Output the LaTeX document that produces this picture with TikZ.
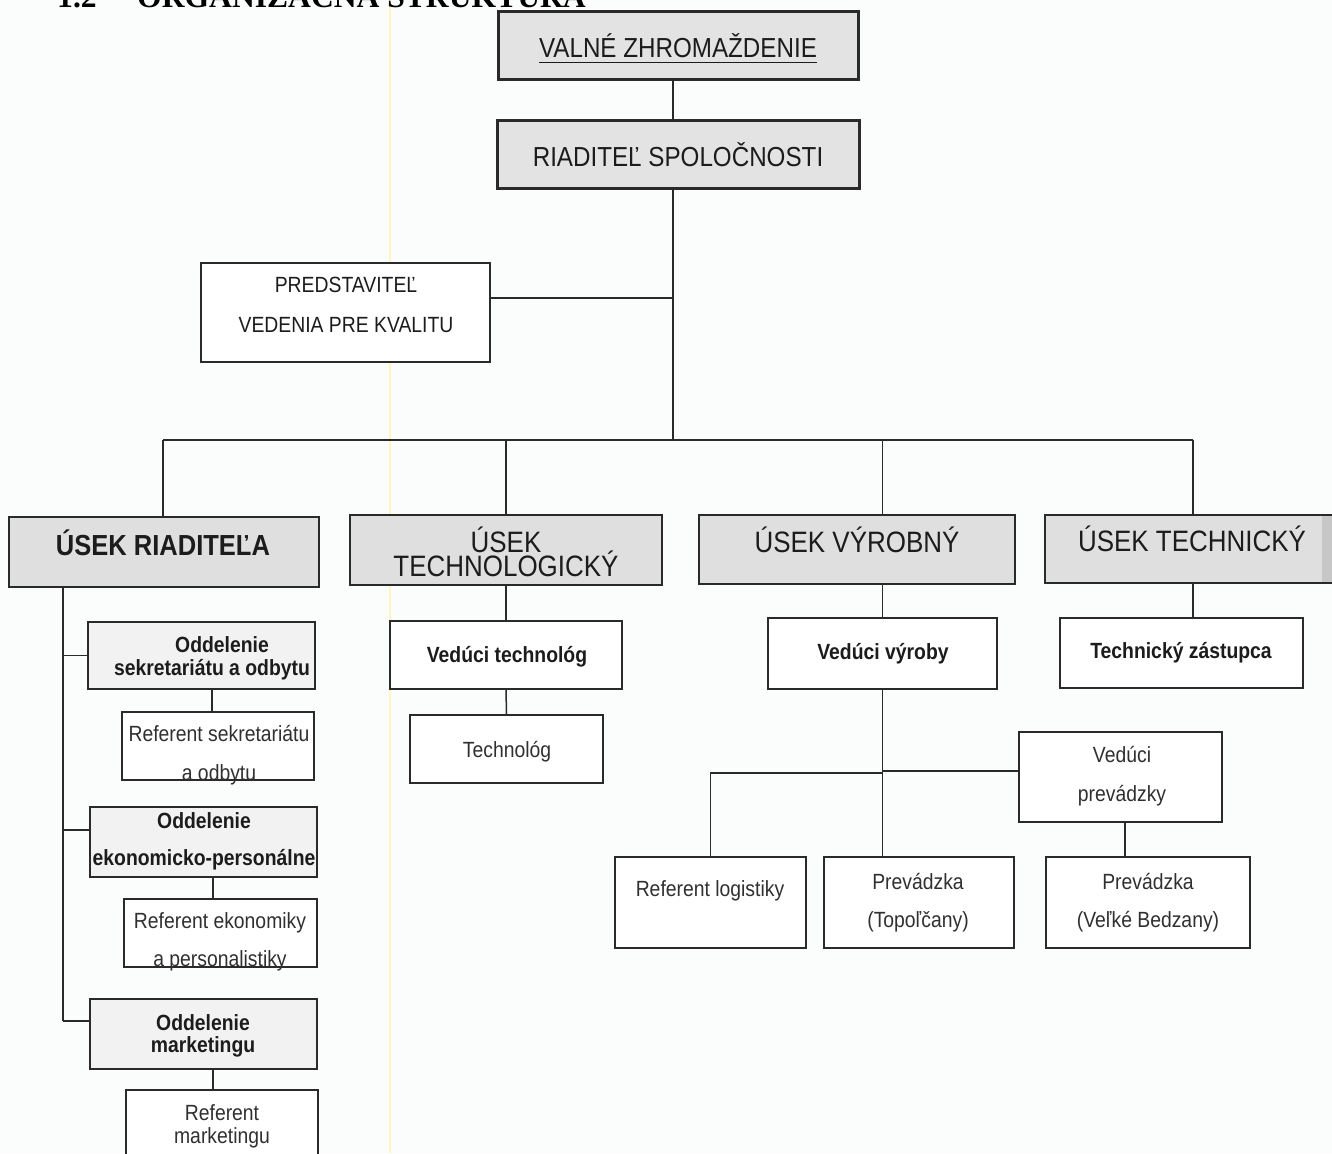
\documentclass[tikz,border=0pt]{standalone}
\usepackage{fontspec}
\setmainfont{Liberation Sans}
\newfontfamily\nar[FakeStretch=0.88]{Liberation Sans}
\newfontfamily\tms{Liberation Serif}
\definecolor{lc}{HTML}{2A2A2A}
\definecolor{tc}{HTML}{1C1C1C}
\definecolor{tcl}{HTML}{303030}
\definecolor{gfill}{HTML}{E3E3E3}
\definecolor{ufill}{HTML}{DFDFDF}
\definecolor{lfill}{HTML}{F2F2F2}
\definecolor{bgc}{HTML}{FBFDFD}
\definecolor{yel}{HTML}{FFF5BF}
\begin{document}
\begin{tikzpicture}[x=1pt,y=-1pt,
  box/.style={draw=lc, line width=1.6pt, rectangle, inner sep=0pt, outer sep=0pt, fill=white},
  topbox/.style={box, line width=3pt, fill=gfill},
  usekbox/.style={box, line width=2pt, fill=ufill},
  oddbox/.style={box, fill=lfill},
  ln/.style={draw=lc, line width=1.5pt},
  txt/.style={anchor=base, inner sep=0pt, outer sep=0pt, text=tcl, font=\nar\fontsize{22}{26}\selectfont},
  btxt/.style={txt, text=tc, font=\nar\bfseries\fontsize{22}{26}\selectfont},
  bigtxt/.style={txt, text=tc, font=\nar\fontsize{27.5}{32}\selectfont},
  usektxt/.style={txt, text=tc, font=\nar\fontsize{29.5}{34}\selectfont},
  headtxt/.style={anchor=base west, inner sep=0pt, text=black, font=\tms\bfseries\fontsize{31.6}{36}\selectfont}
]
\useasboundingbox (0,0) rectangle (1332,1153);
\fill[bgc] (0,0) rectangle (1332,1153);
% scan artefact
\draw[yel, line width=2pt] (390,0) -- (390,1153);

% heading (cut at top)
\node[headtxt] (h1) at (57,8) {1.2};
\node[headtxt] (h2) at (137,8) {ORGANIZAČNÁ ŠTRUKTÚRA};

% coordinates
\coordinate (trunk) at (673,440);
\coordinate (jq) at (673,298);
\coordinate (b1) at (163,440);
\coordinate (b2) at (1193,440);
\coordinate (lv) at (63,1021);
\coordinate (pj) at (882,773);

% top boxes
\node[topbox, minimum width=360, minimum height=68] (vz) at (678,46) {};
\node[topbox, minimum width=362, minimum height=67] (rs) at (678,154.5) {};
\node[box, minimum width=289, minimum height=99] (pq) at (345.5,312.5) {};

% usek boxes
\node[usekbox, minimum width=310, minimum height=70] (ur) at (164,552) {};
\node[usekbox, minimum width=312, minimum height=70] (ut) at (506,550) {};
\node[usekbox, minimum width=316, minimum height=69] (uv) at (857,549.5) {};
\node[usekbox, minimum width=300, minimum height=68] (uk) at (1195,549) {};
\fill[black!22] (1322,516) rectangle (1332,582);

% second level
\node[box, minimum width=232, minimum height=68] (vt) at (506,655) {};
\node[box, minimum width=193, minimum height=68] (tg) at (506.5,749) {};
\node[box, minimum width=229, minimum height=71] (vv) at (882.5,653.5) {};
\node[box, minimum width=243, minimum height=70] (tz) at (1181.5,653) {};

% left column
\node[oddbox, minimum width=227, minimum height=67] (os) at (201.5,655.5) {};
\node[box, minimum width=192, minimum height=68] (rse) at (218,746) {};
\node[oddbox, minimum width=227, minimum height=70] (oe) at (203.5,842) {};
\node[box, minimum width=193, minimum height=68] (rek) at (220.5,933) {};
\node[oddbox, minimum width=227, minimum height=70] (om) at (203.5,1034) {};
\node[box, minimum width=192, minimum height=80] (rm) at (222,1130) {};

% production
\node[box, minimum width=203, minimum height=90] (vp) at (1120.5,777) {};
\node[box, minimum width=191, minimum height=91] (rl) at (710.5,902.5) {};
\node[box, minimum width=190, minimum height=91] (pt) at (919,902.5) {};
\node[box, minimum width=204, minimum height=91] (pb) at (1148,902.5) {};

% connectors
\draw[ln] (vz.south -| trunk) -- (rs.north -| trunk);
\draw[ln] (rs.south -| trunk) -- (trunk);
\draw[ln] (jq) -- (jq -| pq.east);
\draw[ln] (b1) -- (b2);
\draw[ln] (b1) -- (b1 |- ur.north);
\draw[ln] (ut.north) -- (ut.north |- b1);
\draw[ln] (uv.north -| vv.north) -- (vv.north |- b1);
\draw[ln] (b2) -- (b2 |- uk.north);
\draw[ln] (ut.south) -- (vt.north);
\draw[ln] (vt.south) -- (tg.north);
\draw[ln] (uv.south -| vv.north) -- (vv.north);
\draw[ln] (uk.south -| b2) -- (tz.north -| b2);
% left column
\draw[ln] (ur.south -| lv) -- (lv);
\draw[ln] (os.west -| lv) -- (os.west);
\draw[ln] ([yshift=12pt]oe.west -| lv) -- ([yshift=12pt]oe.west);
\draw[ln] (lv) -- (lv -| om.west);
\draw[ln] (os.south -| 212,0) -- (rse.north -| 212,0);
\draw[ln] (oe.south -| 213,0) -- (rek.north -| 213,0);
\draw[ln] (om.south -| 213,0) -- (rm.north -| 213,0);
% production
\draw[ln] (vv.south) -- (pt.north -| vv.south);
\draw[ln] (pj) -- (pj -| rl.north) -- (rl.north);
\draw[ln] ([yshift=2pt]pj) -- ([yshift=2pt]pj -| vp.west);
\draw[ln] (vp.south -| 1125,0) -- (pb.north -| 1125,0);

% texts
\node[bigtxt] (vzt) at (678,58) {VALNÉ ZHROMAŽDENIE};
\draw[tc, line width=1.4pt] ([yshift=-4.5pt]vzt.base west) -- ([yshift=-4.5pt]vzt.base east);
\node[bigtxt] (rst) at (678,166) {RIADITEĽ SPOLOČNOSTI};
\node[txt, text=tc] (pq1) at (346,292) {PREDSTAVITEĽ};
\node[txt, text=tc] (pq2) at (346,332) {VEDENIA PRE KVALITU};

\node[usektxt, font=\nar\bfseries\fontsize{29}{34}\selectfont] (urt) at (163,555) {ÚSEK RIADITEĽA};
\node[usektxt] (ut1) at (506,552) {ÚSEK};
\node[usektxt] (ut2) at (506,576) {TECHNOLOGICKÝ};
\node[usektxt] (uvt) at (857,552) {ÚSEK VÝROBNÝ};
\node[usektxt] (ukt) at (1192,551) {ÚSEK TECHNICKÝ};

\node[btxt] (vtt) at (507,662) {Vedúci technológ};
\node[txt] (tgt) at (507,757) {Technológ};
\node[btxt] (vvt) at (883,659) {Vedúci výroby};
\node[btxt] (tzt) at (1181,658) {Technický zástupca};

\node[btxt] (os1) at (222,652) {Oddelenie};
\node[btxt] (os2) at (212,675) {sekretariátu a odbytu};
\node[txt] (rs1) at (219,741) {Referent sekretariátu};
\node[txt] (rs2) at (219,780) {a odbytu};
\node[btxt] (oe1) at (204,828) {Oddelenie};
\node[btxt] (oe2) at (204,865) {ekonomicko-personálne};
\node[txt] (re1) at (220,928) {Referent ekonomiky};
\node[txt] (re2) at (220,966) {a personalistiky};
\node[btxt] (om1) at (203,1030) {Oddelenie};
\node[btxt] (om2) at (203,1052) {marketingu};
\node[txt] (rm1) at (222,1120) {Referent};
\node[txt] (rm2) at (222,1143) {marketingu};

\node[txt] (vp1) at (1122,762) {Vedúci};
\node[txt] (vp2) at (1122,801) {prevádzky};
\node[txt] (rlt) at (710,896) {Referent logistiky};
\node[txt] (pt1) at (918,889) {Prevádzka};
\node[txt] (pt2) at (918,927) {(Topoľčany)};
\node[txt] (pb1) at (1148,889) {Prevádzka};
\node[txt] (pb2) at (1148,927) {(Veľké Bedzany)};
\end{tikzpicture}
\end{document}
